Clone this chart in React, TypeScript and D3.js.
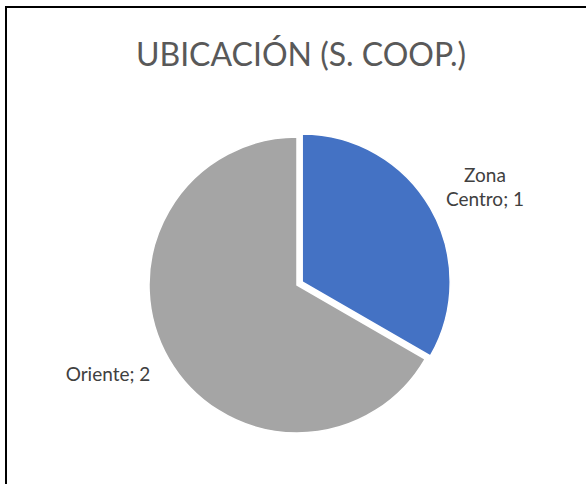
import { useEffect, useRef } from 'react';
import * as d3 from 'd3';

// Datos del gráfico
const categories = ['Zona Centro', 'Oriente'];
const values = [1, 2];
const colors = ['#4472C4', '#A5A5A5'];
const title = 'UBICACIÓN (S. COOP.)';

export default function App() {
  const ref = useRef<SVGSVGElement>(null);

  useEffect(() => {
    if (!ref.current) return;
    const svg = d3.select(ref.current);
    svg.selectAll('*').remove();

    const width = 586;
    const height = 484;
    const cx = 297;
    const cy = 285;
    const radius = 148;
    const explode = 6;
    const font = 'Lato, "Open Sans", sans-serif';

    svg.append('rect').attr('width', width).attr('height', height).attr('fill', '#fff');

    // marco del gráfico (solo borde superior e izquierdo visibles)
    svg.append('rect')
      .attr('x', 6)
      .attr('y', 7)
      .attr('width', 620)
      .attr('height', 520)
      .attr('fill', 'none')
      .attr('stroke', '#000')
      .attr('stroke-width', 2);

    svg.append('text')
      .attr('x', 301)
      .attr('y', 66)
      .attr('text-anchor', 'middle')
      .attr('font-family', font)
      .attr('font-size', 32)
      .attr('fill', '#595959')
      .text(title);

    const data = categories.map((c, i) => ({ name: c, value: values[i], color: colors[i] }));
    const pie = d3.pie<any>().sort(null).value(d => d.value);
    const arcs = pie(data);
    const arc = d3.arc<any>().innerRadius(0).outerRadius(radius);

    const g = svg.append('g').attr('transform', `translate(${cx},${cy})`);

    g.selectAll('path')
      .data(arcs)
      .enter()
      .append('path')
      .attr('d', arc)
      .attr('fill', d => d.data.color)
      .attr('stroke', '#fff')
      .attr('stroke-width', 1.5)
      .attr('transform', (d, i) => {
        if (i !== 0) return null;
        const a = (d.startAngle + d.endAngle) / 2;
        return `translate(${Math.sin(a) * explode},${-Math.cos(a) * explode})`;
      });

    // etiquetas de datos
    const labels = [
      { lines: ['Zona', 'Centro; 1'], x: 485, y: 182 },
      { lines: ['Oriente; 2'], x: 108, y: 381 },
    ];
    labels.forEach(l => {
      const t = svg.append('text')
        .attr('text-anchor', 'middle')
        .attr('font-family', font)
        .attr('font-size', 19)
        .attr('fill', '#404040');
      l.lines.forEach((line, i) => {
        t.append('tspan').attr('x', l.x).attr('y', l.y + i * 24).text(line);
      });
    });
  }, []);

  return (
    <svg
      ref={ref}
      width={586}
      height={484}
      style={{ position: 'absolute', left: 0, top: 0, display: 'block' }}
    />
  );
}
